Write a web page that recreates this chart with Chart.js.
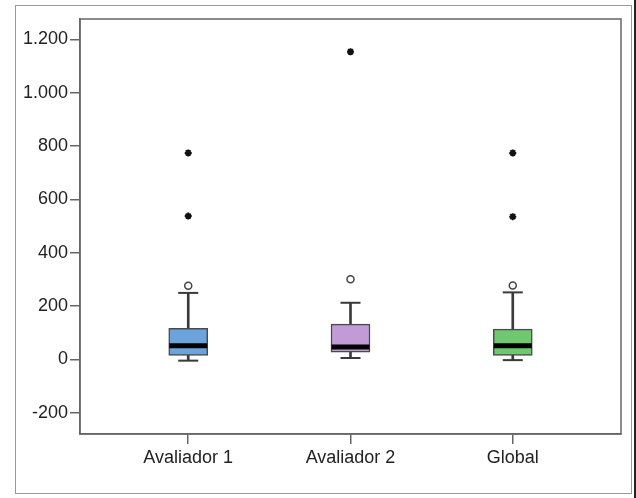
<!DOCTYPE html>
<html>
<head>
<meta charset="utf-8">
<script src="https://cdn.jsdelivr.net/npm/chart.js@4/dist/chart.umd.min.js"></script>
<style>
  html, body { margin: 0; padding: 0; background: #fff; }
  #wrap { position: relative; width: 636px; height: 498px; overflow: hidden; }
  #frame { position: absolute; left: 15px; top: 5px; width: 615px; height: 487px; border: 1px solid #9a9a9a; }
  #edge { position: absolute; left: 634px; top: 0; width: 2px; height: 498px; background: #222; }
  #box { position: absolute; left: 0; top: 0; width: 636px; height: 498px; }
</style>
</head>
<body>
<div id="wrap">
  <div id="frame"></div>
  <div id="edge"></div>
  <div id="box"><canvas id="boxChart"></canvas></div>
</div>
<script>
// dados
var categories = ["Avaliador 1", "Avaliador 2", "Global"];
var lowerWhisker = [-5, 5, -3];
var q1 = [15, 27, 15];
var median = [51, 46, 51];
var q3 = [116, 132, 113];
var upperWhisker = [249, 212, 251];
var circleOutliers = [[276], [300], [277]];
var starOutliers = [[537, 774], [1153], [535, 774]];
var yTicks = [-200, 0, 200, 400, 600, 800, 1000, 1200];
var boxColors = ["#6ca3dc", "#c29bd6", "#6fc870"];

function points(values) {
  return values.map(function (v, i) { return { x: i + 1, y: v }; });
}
function ranges(lo, hi) {
  return lo.map(function (v, i) { return { x: i + 1, y: [v, hi[i]] }; });
}
function outlierPoints(groups) {
  var out = [];
  groups.forEach(function (g, i) {
    g.forEach(function (v) { out.push({ x: i + 1, y: v }); });
  });
  return out;
}
function fmt(v) {
  return String(v).replace(/\B(?=(\d{3})+(?!\d))/g, ".");
}

// moldura da área do gráfico
var plotFrame = {
  id: "plotFrame",
  beforeDatasetsDraw: function (chart) {
    var a = chart.chartArea, ctx = chart.ctx;
    ctx.save();
    ctx.strokeStyle = "#666";
    ctx.lineWidth = 1.5;
    ctx.strokeRect(a.left, a.top, a.right - a.left, a.bottom - a.top);
    ctx.restore();
  }
};

Chart.defaults.font.family = '"Liberation Sans", Arial, sans-serif';
Chart.defaults.font.size = 18;
Chart.defaults.color = "#222";

var ctx = document.getElementById("boxChart").getContext("2d");
var boxChart = new Chart(ctx, {
  type: "bar",
  data: {
    datasets: [
      {
        type: "scatter",
        data: points(median),
        pointStyle: "line",
        pointRadius: 19,
        pointHoverRadius: 19,
        borderColor: "#000",
        pointBorderWidth: 5,
        order: 0
      },
      {
        type: "scatter",
        data: outlierPoints(starOutliers),
        pointStyle: "star",
        pointRadius: 3.5,
        pointHoverRadius: 3.5,
        borderColor: "#111",
        pointBorderWidth: 2,
        order: 0
      },
      {
        type: "scatter",
        data: outlierPoints(circleOutliers),
        pointStyle: "circle",
        pointRadius: 3.5,
        pointHoverRadius: 3.5,
        borderColor: "#444",
        backgroundColor: "#fff",
        pointBorderWidth: 1.5,
        order: 0
      },
      {
        type: "scatter",
        data: points(upperWhisker).concat(points(lowerWhisker)),
        pointStyle: "line",
        pointRadius: 10,
        pointHoverRadius: 10,
        borderColor: "#3a3a3a",
        pointBorderWidth: 2,
        order: 1
      },
      {
        data: ranges(q1, q3),
        backgroundColor: boxColors,
        borderColor: "#4a4a4a",
        borderWidth: 1.5,
        borderSkipped: false,
        barThickness: 39,
        grouped: false,
        order: 2
      },
      {
        data: ranges(q3, upperWhisker),
        backgroundColor: "#3a3a3a",
        barThickness: 2,
        grouped: false,
        order: 3
      },
      {
        data: ranges(lowerWhisker, q1),
        backgroundColor: "#3a3a3a",
        barThickness: 2,
        grouped: false,
        order: 3
      }
    ]
  },
  options: {
    responsive: true,
    maintainAspectRatio: false,
    animation: false,
    events: [],
    layout: { autoPadding: false, padding: { top: 19, right: 15, bottom: 0, left: 0 } },
    plugins: { legend: { display: false }, tooltip: { enabled: false } },
    scales: {
      x: {
        type: "linear",
        offset: false,
        min: 0.333,
        max: 3.667,
        afterBuildTicks: function (scale) {
          scale.ticks = categories.map(function (c, i) { return { value: i + 1 }; });
        },
        afterFit: function (scale) {
          scale.height = 64;
          scale.paddingLeft = 0;
          scale.paddingRight = 0;
        },
        ticks: {
          padding: 3,
          maxRotation: 0,
          callback: function (v) { return categories[v - 1]; }
        },
        grid: { offset: false, drawOnChartArea: false, drawTicks: true, tickLength: 10, color: "#666", lineWidth: 1.5 },
        border: { color: "#666", width: 1.5 }
      },
      y: {
        min: -280,
        max: 1276,
        afterBuildTicks: function (scale) {
          scale.ticks = yTicks.map(function (v) { return { value: v }; });
        },
        afterFit: function (scale) { scale.width = 80; },
        ticks: {
          padding: 2,
          callback: function (v) { return fmt(v); }
        },
        grid: { drawOnChartArea: false, drawTicks: true, tickLength: 10, color: "#666", lineWidth: 1.5 },
        border: { color: "#666", width: 1.5 }
      }
    }
  },
  plugins: [plotFrame]
});
</script>
</body>
</html>
